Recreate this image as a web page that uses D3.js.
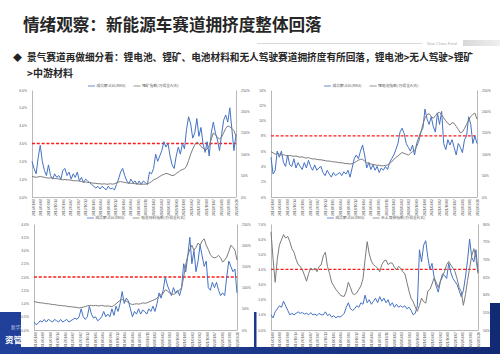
<!DOCTYPE html>
<html>
<head>
<meta charset="utf-8">
<script src="https://cdn.jsdelivr.net/npm/d3@7"></script>
<style>
  body { margin: 0; background: #fff; }
  svg { display: block; }
</style>
</head>
<body>
<svg id="slide" width="500" height="354"></svg>
<script>
// ---- Slide text ----
const titleText = "情绪观察：新能源车赛道拥挤度整体回落";
const bulletLine1 = "景气赛道再做细分看：锂电池、锂矿、电池材料和无人驾驶赛道拥挤度有所回落，锂电池>无人驾驶>锂矿";
const bulletLine2 = ">中游材料";

// ---- Shared date labels (x axis) ----
const dateLabels = [
  "2016/01/08","2016/04/08","2016/07/08","2016/10/14","2017/01/06","2017/04/07","2017/07/07",
  "2017/10/13","2018/01/05","2018/04/04","2018/07/06","2018/10/12","2019/01/04","2019/04/04",
  "2019/07/05","2019/10/11","2020/01/03","2020/04/03","2020/07/03","2020/10/09","2021/01/08",
  "2021/04/02","2021/07/02","2021/10/08","2022/01/07","2022/04/01","2022/07/01","2022/09/30"
];

// ---- Legend labels ----
const turnoverName = "成交额占比(MA5)";
const ratioNames = ["锂矿指数/万得全A(右)", "锂电池指数/万得全A(右)", "电池材料指数/万得全A(右)", "无人驾驶指数/万得全A(右)"];

// ---- Lithium mining: turnover share (%) and index ratio (%) ----
const lithiumMineTurnover = [
  2.0,1.6,1.3,2.2,2.9,2.0,1.5,1.2,1.8,1.2,
  1.0,1.3,1.1,1.2,1.0,1.5,1.6,1.2,1.4,1.0,
  1.3,1.1,1.4,0.9,1.1,0.8,1.0,0.9,0.8,0.7,
  0.6,0.5,0.6,0.45,0.6,0.5,0.4,0.6,0.45,0.5,
  0.4,0.7,1.0,1.4,1.6,1.2,0.9,0.75,1.0,0.8,
  0.9,0.7,0.9,0.7,0.9,0.8,0.7,1.4,1.3,1.6,
  2.4,2.0,2.3,2.6,3.1,2.8,3.0,2.3,1.8,1.6,
  2.3,2.8,2.4,3.0,2.7,3.8,4.5,4.1,3.3,3.6,
  4.4,3.4,3.9,3.0,2.5,3.1,2.3,3.6,4.2,3.6,
  3.2,2.6,3.5,4.3,4.6,4.2,5.0,3.8,2.6,3.5
];
const lithiumMineRatio = [
  48,47,46,47,48,47,46,45,44,45,
  44,43,43,42,41,40,41,40,40,39,
  38,38,38,37,36,35,35,34,34,33,
  32,32,31,31,30,31,30,30,31,30,
  31,33,35,36,35,34,33,33,32,32,
  31,31,30,30,30,30,31,33,36,40,
  42,45,48,51,53,55,54,52,50,51,
  55,58,62,64,66,72,85,100,112,122,
  128,125,118,114,110,112,120,135,150,145,
  140,135,140,150,160,166,164,160,155,142
];

// ---- Lithium battery ----
const batteryTurnover = [
  5.2,3.0,3.5,6.0,5.2,6.0,4.5,4.0,5.5,4.2,
  4.0,5.0,3.8,4.5,4.0,3.6,4.5,3.8,4.8,4.0,
  3.5,4.2,3.5,3.8,4.0,3.2,2.8,3.5,3.0,2.6,
  3.2,2.8,3.0,3.2,2.8,3.3,3.0,3.5,2.6,3.8,
  5.0,5.5,5.0,6.0,6.8,5.5,3.8,4.5,3.6,4.2,
  3.5,4.0,3.2,3.8,3.5,4.0,3.6,4.5,5.0,5.5,
  6.2,7.0,8.5,9.0,8.3,7.0,6.5,6.0,6.8,5.5,
  7.0,7.8,8.5,9.0,11.5,10.2,9.5,10.5,9.2,8.5,
  11.0,9.5,11.2,7.0,6.2,7.5,6.8,7.5,6.5,5.5,
  7.0,6.5,5.8,7.5,8.0,10.5,9.5,7.0,8.0,7.0
];
const batteryRatio = [
  106,103,100,102,100,98,99,97,96,97,
  96,95,96,94,93,94,92,91,92,90,
  89,89,88,87,87,86,85,84,84,83,
  82,82,81,80,80,79,78,78,77,78,
  80,83,86,88,88,84,80,79,77,76,
  75,74,74,73,73,74,75,78,82,88,
  92,96,100,104,102,100,98,102,106,108,
  118,130,150,170,185,192,195,188,184,190,
  196,198,192,185,178,172,168,174,172,165,
  158,150,152,160,170,180,188,193,196,182
];

// ---- Battery materials ----
const materialsTurnover = [
  0.3,0.2,0.25,0.35,0.3,0.4,0.3,0.4,0.35,0.3,
  0.4,0.35,0.3,0.4,0.3,0.35,0.4,0.3,0.35,0.4,
  0.45,0.4,0.5,0.8,0.5,0.4,0.5,0.9,0.6,0.45,
  0.5,0.35,0.4,0.5,0.7,0.5,0.6,0.5,0.8,0.55,
  0.9,0.7,1.0,1.45,1.0,1.2,1.1,0.8,0.5,0.7,
  0.6,0.8,0.6,0.75,0.7,0.6,0.8,0.7,0.9,0.7,
  1.0,1.4,1.2,1.5,2.0,1.7,1.5,1.3,1.6,1.4,
  1.5,1.3,1.6,2.5,2.2,2.8,3.5,2.5,3.0,2.2,
  2.6,3.2,2.8,2.4,2.6,1.6,1.5,1.8,1.6,1.8,
  1.5,1.3,1.4,1.3,2.0,2.6,2.4,2.2,2.3,1.4
];
const materialsRatio = [
  67,66,65,64,64,63,62,62,61,60,
  60,59,58,58,57,57,56,55,55,54,
  54,53,52,53,54,55,57,58,58,57,
  58,57,57,58,57,56,57,56,55,58,
  62,66,70,72,70,68,65,62,60,61,
  62,61,62,64,63,64,66,68,70,72,
  75,80,84,86,95,92,88,85,84,86,
  90,94,100,125,155,175,190,200,188,195,
  205,200,210,215,200,190,178,172,170,172,
  176,170,160,165,172,185,200,195,188,165
];

// ---- Autonomous driving ----
const autoTurnover = [
  1.0,0.8,1.2,1.4,1.6,1.5,1.9,1.6,1.3,1.0,
  1.1,1.0,1.1,1.2,1.1,1.15,1.05,1.1,1.0,1.15,
  1.0,1.05,0.95,1.1,1.0,1.0,1.2,0.95,1.05,0.85,
  0.95,0.8,0.9,0.85,0.95,1.1,1.5,1.8,1.4,1.3,
  1.4,1.6,1.5,1.8,1.7,2.3,1.8,2.0,1.7,1.9,
  2.1,1.8,2.2,1.9,2.1,1.8,2.0,1.6,1.8,1.5,
  1.7,1.5,1.6,1.5,1.6,1.4,1.5,1.3,1.0,1.1,
  1.6,5.3,4.5,5.6,5.9,4.8,4.0,4.4,3.5,2.9,
  2.5,3.2,3.7,3.6,3.4,4.4,3.8,3.4,3.2,3.0,
  2.6,2.2,2.6,3.5,4.6,6.0,4.8,4.5,5.3,3.8
];
const autoRatio = [
  77.8,70,63.5,70,74,75.5,77,76,76.5,75,
  73,72,70,68.5,68,67,65.5,63.8,66,67.5,
  67,67.5,66.5,68,68.4,71,72,68,66,63.5,
  62.5,61.5,60.8,60,59.6,59.5,61,63.5,62,60.3,
  60,60.5,61.5,62.5,64.5,70,75,71.5,69.5,68.5,
  68,67.5,66.5,68.5,69.5,69.8,68.5,69,68.9,67.8,
  67,68,67.5,66.5,66,63.5,61,59,58,56.5,
  55.3,57,59,58,57.6,61,61.5,63,64.7,63.5,
  62,63.8,65,66.6,68.5,69.4,68.4,67.5,66.5,64.5,
  62,60.9,57,60,64,67.5,71,73,70.5,66
];

// ---- Axis ticks and warning levels ----
const leftTicks = [
  [0,1,2,3,4,5,6],
  [0,2,4,6,8,10,12,14],
  [0,0.5,1,1.5,2,2.5,3,3.5,4],
  [0,1,2,3,4,5,6,7]
];
const rightTicks = [
  [0,50,100,150,200,250],
  [0,50,100,150,200,250],
  [0,50,100,150,200,250],
  [50,55,60,65,70,75,80]
];
const warningLevels = [3, 8, 2, 4];

// ---- Layout ----
const CJK = "'Noto Sans CJK SC', 'Noto Sans', sans-serif";
const LATIN = "'Liberation Sans', Arial, sans-serif";
const BLUE = "#4472c4", GRAY = "#7b7b7b", AXIS = "#a6a6a6", LABEL = "#595959";

const panels = [
  { left: lithiumMineTurnover, right: lithiumMineRatio, name: ratioNames[0],
    lt: leftTicks[0], rt: rightTicks[0], warn: warningLevels[0], lfmt: d3.format(".1%"),
    x0: 32, x1: 236, y0: 90, y1: 197, legendX: 88, legendY: 86 },
  { left: batteryTurnover, right: batteryRatio, name: ratioNames[1],
    lt: leftTicks[1], rt: rightTicks[1], warn: warningLevels[1], lfmt: d3.format(".0%"),
    x0: 271, x1: 477, y0: 90, y1: 197, legendX: 324, legendY: 86 },
  { left: materialsTurnover, right: materialsRatio, name: ratioNames[2],
    lt: leftTicks[2], rt: rightTicks[2], warn: warningLevels[2], lfmt: d3.format(".1%"),
    x0: 34, x1: 237, y0: 224, y1: 330, legendX: 87, legendY: 218 },
  { left: autoTurnover, right: autoRatio, name: ratioNames[3],
    lt: leftTicks[3], rt: rightTicks[3], warn: warningLevels[3], lfmt: d3.format(".1%"),
    x0: 271, x1: 478, y0: 224, y1: 330, legendX: 327, legendY: 218 }
];

const svg = d3.select("#slide");

// Footer band in corporate navy, partially covered by the lower charts
const defs = svg.append("defs");
const grad = defs.append("linearGradient").attr("id", "navy").attr("x1", "0").attr("x2", "1");
grad.append("stop").attr("offset", "0").attr("stop-color", "#21409a");
grad.append("stop").attr("offset", "0.6").attr("stop-color", "#1a3688");
grad.append("stop").attr("offset", "1").attr("stop-color", "#122a74");
const barGrad = defs.append("linearGradient").attr("id", "grayBar").attr("x1", "0").attr("x2", "1");
barGrad.append("stop").attr("offset", "0").attr("stop-color", "#d8d8d8");
barGrad.append("stop").attr("offset", "1").attr("stop-color", "#efefef");

svg.append("rect").attr("x", 0).attr("y", 312).attr("width", 500).attr("height", 42).attr("fill", "url(#navy)");
svg.append("rect").attr("x", 488).attr("y", 303).attr("width", 12).attr("height", 10).attr("fill", "#122a74");
svg.append("text").attr("x", 11).attr("y", 329).attr("font-size", 4.5).attr("fill", "#c9d3f0")
  .style("font-family", CJK).text("新华基金");
svg.append("text").attr("x", 5).attr("y", 343).attr("font-size", 8.5).attr("fill", "#ffffff")
  .style("font-family", CJK).attr("font-weight", 700).text("资管");

// White backing for the lower chart images
svg.append("rect").attr("x", 21).attr("y", 205).attr("width", 233).attr("height", 142).attr("fill", "#fff");
svg.append("rect").attr("x", 256.5).attr("y", 205).attr("width", 233.5).attr("height", 142).attr("fill", "#fff");

// Title
svg.append("text").attr("x", 23).attr("y", 31).attr("font-size", 16.6).attr("font-weight", 700)
  .attr("fill", "#262626").style("font-family", CJK).text(titleText);

// Thin rule with company mark
svg.append("line").attr("x1", 257).attr("x2", 422).attr("y1", 43.5).attr("y2", 43.5)
  .attr("stroke", "#cfcfcf").attr("stroke-width", 0.8);
svg.append("text").attr("x", 427).attr("y", 45).attr("font-size", 4).attr("fill", "#b0b0b0")
  .style("font-family", LATIN).text("New China Fund");
svg.append("rect").attr("x", 463).attr("y", 40).attr("width", 37).attr("height", 6).attr("fill", "url(#grayBar)");

// Bullet point
svg.append("text").attr("x", 13).attr("y", 60.5).attr("font-size", 9).attr("fill", "#222")
  .style("font-family", CJK).text("◆");
svg.append("text").attr("x", 27).attr("y", 61).attr("font-size", 10).attr("font-weight", 700)
  .attr("fill", "#262626").style("font-family", CJK)
  .attr("textLength", 446).attr("lengthAdjust", "spacingAndGlyphs").text(bulletLine1);
svg.append("text").attr("x", 27).attr("y", 77).attr("font-size", 10).attr("font-weight", 700)
  .attr("fill", "#262626").style("font-family", CJK).text(bulletLine2);

// ---- Charts ----
panels.forEach(p => {
  const g = svg.append("g");
  const n = p.left.length;
  const x = d3.scaleLinear().domain([0, n - 1]).range([p.x0, p.x1]);
  const xCat = d3.scalePoint().domain(dateLabels).range([p.x0 + 1, p.x1]);
  const yL = d3.scaleLinear().domain(d3.extent(p.lt)).range([p.y1, p.y0]);
  const yR = d3.scaleLinear().domain(d3.extent(p.rt)).range([p.y1, p.y0]);

  // left axis
  const aL = g.append("g").attr("transform", `translate(${p.x0},0)`)
    .call(d3.axisLeft(yL).tickValues(p.lt).tickFormat(v => p.lfmt(v / 100)).tickSize(0).tickPadding(5));
  // right axis
  const aR = g.append("g").attr("transform", `translate(${p.x1},0)`)
    .call(d3.axisRight(yR).tickValues(p.rt).tickFormat(v => v + "%").tickSize(0).tickPadding(5));
  // bottom axis with rotated date labels
  const aB = g.append("g").attr("transform", `translate(0,${p.y1})`)
    .call(d3.axisBottom(xCat).tickSize(0).tickSizeOuter(0));
  aB.selectAll("text")
    .attr("transform", "rotate(-90)")
    .attr("x", -2).attr("y", 0).attr("dy", "0.35em")
    .style("text-anchor", "end");
  aB.select(".domain").attr("d", `M${p.x0},0.5H${p.x1}`);

  [aL, aR, aB].forEach(a => {
    a.select(".domain").attr("stroke", AXIS).attr("stroke-width", 0.8);
    a.selectAll("text").attr("fill", LABEL).style("font-family", LATIN).attr("font-size", 3.4);
  });

  // warning level
  g.append("line").attr("x1", p.x0).attr("x2", p.x1)
    .attr("y1", yL(p.warn)).attr("y2", yL(p.warn))
    .attr("stroke", "#ff1a1a").attr("stroke-width", 1.3).attr("stroke-dasharray", "3,1.8");

  // series
  g.append("path").datum(p.left)
    .attr("d", d3.line().x((d, i) => x(i)).y(d => yL(d)))
    .attr("fill", "none").attr("stroke", BLUE).attr("stroke-width", 1).attr("stroke-linejoin", "round");
  g.append("path").datum(p.right)
    .attr("d", d3.line().x((d, i) => x(i)).y(d => yR(d)))
    .attr("fill", "none").attr("stroke", GRAY).attr("stroke-width", 1).attr("stroke-linejoin", "round");

  // legend
  const leg = g.append("g").attr("transform", `translate(${p.legendX},${p.legendY})`);
  const items = [{ name: turnoverName, color: BLUE }, { name: p.name, color: GRAY }];
  let offset = 0;
  items.forEach(it => {
    leg.append("line").attr("x1", offset).attr("x2", offset + 7).attr("y1", 0).attr("y2", 0)
      .attr("stroke", it.color).attr("stroke-width", 0.8);
    const t = leg.append("text").attr("x", offset + 8.5).attr("y", 1.3).attr("font-size", 3.8)
      .attr("fill", LABEL).style("font-family", CJK).text(it.name);
    offset += 8.5 + t.node().getComputedTextLength() + 8;
  });
});
</script>
</body>
</html>
